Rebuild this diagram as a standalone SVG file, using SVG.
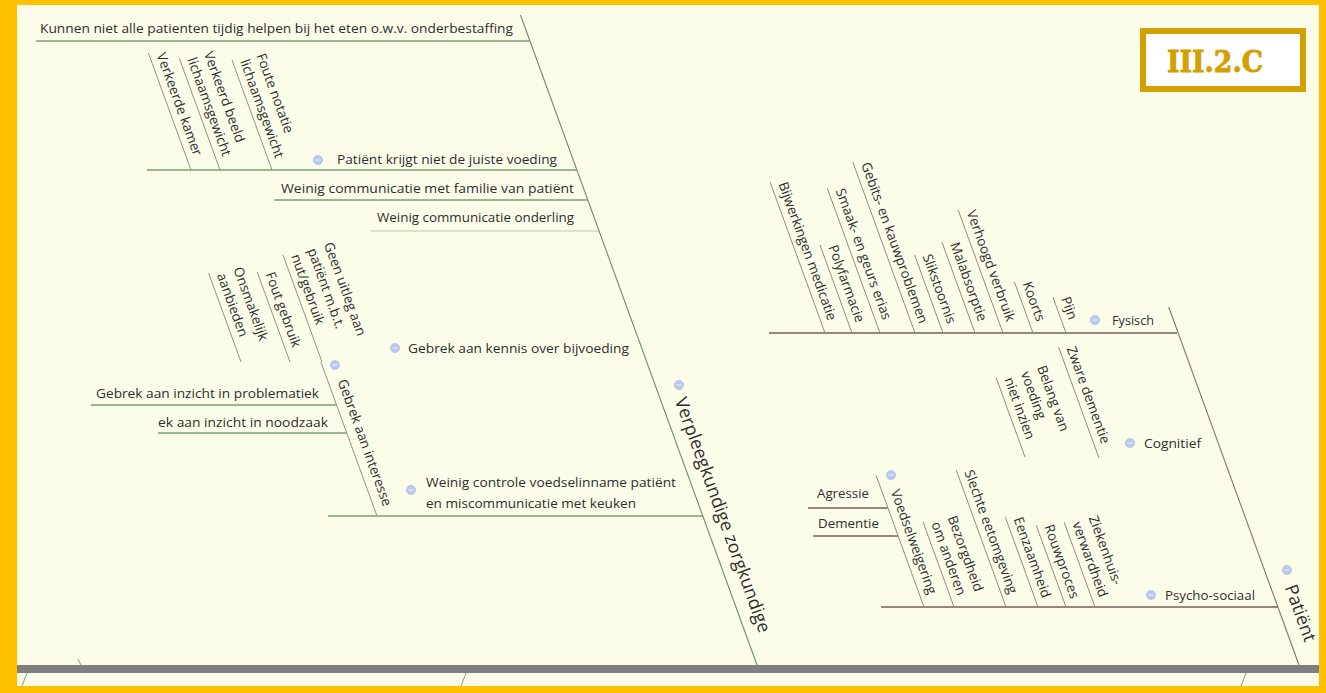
<svg xmlns="http://www.w3.org/2000/svg" width="1326" height="693" viewBox="0 0 1326 693">
  <defs>
    <style>
      .t { font-family: "Open Sans", "Noto Sans", "Liberation Sans", sans-serif; font-size: 13.5px; fill: #2e2e2e; }
      .big { font-size: 18px; }
      .tag { font-family: "DejaVu Serif", "Liberation Serif", serif; font-weight: bold; font-size: 30px; fill: #d2a000; stroke: #d2a000; stroke-width: 0.9; }
      .ul { stroke: #7c9e70; stroke-width: 1.3; fill: none; }
      .ud { stroke: #8a9784; stroke-width: 1; fill: none; }
      .bl { stroke: #6f8a6c; stroke-width: 1.1; fill: none; }
      .ur { stroke: #7a5d53; stroke-width: 1.3; fill: none; }
      .rd { stroke: #978880; stroke-width: 1; fill: none; }
      .br { stroke: #85746c; stroke-width: 1.1; fill: none; }
      .stub { stroke: #8a9a84; stroke-width: 1; fill: none; }
    </style>
    <g id="ic">
      <circle r="4.6" fill="#b9c8ef" stroke="#a6b7e4" stroke-width="0.6"/>
      <line x1="-2.4" y1="0" x2="2.4" y2="0" stroke="#eef2fc" stroke-width="1.1"/>
    </g>
  </defs>

  <!-- frame -->
  <rect x="0" y="0" width="1326" height="693" fill="#ffc000"/>
  <rect x="17" y="5" width="1302" height="681" fill="#fcfde9"/>

  <!-- spine -->
  <rect id="spine" x="17" y="665" width="1302" height="8" fill="#7f7f7f"/>

  <!-- label tag -->
  <g id="tag">
    <rect x="1143" y="31" width="160" height="58" fill="#ffffff" stroke="#d2a000" stroke-width="6"/>
    <text class="tag" x="1167" y="72" textLength="96" lengthAdjust="spacingAndGlyphs">III.2.C</text>
  </g>

  <!-- connectors -->
  <g id="connectors">
    <!-- main bones -->
    <line class="bl" x1="520.5" y1="15" x2="757" y2="665"/>
    <line class="br" x1="1168.7" y1="307" x2="1299" y2="665"/>
    <!-- bone stubs continuing past the spine -->
    <line class="stub" x1="78" y1="659" x2="81" y2="665"/>
    <line class="stub" x1="27" y1="673" x2="22" y2="686"/>
    <line class="stub" x1="466" y1="673" x2="461" y2="686"/>
    <line class="rd" x1="1246" y1="673" x2="1241" y2="686"/>

    <!-- left horizontal branches -->
    <line class="ul" x1="36" y1="41" x2="530" y2="41"/>
    <line class="ul" x1="147" y1="170" x2="577" y2="170"/>
    <line class="ul" x1="274" y1="200" x2="588" y2="200"/>
    <line class="ul" x1="370" y1="231" x2="599" y2="231" stroke-opacity="0.35"/>
    <line class="ul" x1="91" y1="405" x2="337" y2="405"/>
    <line class="ul" x1="158" y1="433" x2="347" y2="433"/>
    <line class="ul" x1="328" y1="516" x2="703" y2="516"/>

    <!-- left slanted branches -->
    <line class="ud" x1="148.4" y1="53" x2="191" y2="170"/>
    <line class="ud" x1="179.3" y1="58.2" x2="220" y2="170"/>
    <line class="ud" x1="232" y1="60.1" x2="272" y2="170"/>
    <line class="ud" x1="208.6" y1="273" x2="241" y2="362"/>
    <line class="ud" x1="257.2" y1="272" x2="290" y2="362"/>
    <line class="ud" x1="283" y1="254.9" x2="322" y2="362"/>
    <line class="ud" x1="320.9" y1="362" x2="377" y2="516"/>

    <!-- right horizontal branches -->
    <line class="ur" x1="769" y1="333" x2="1177" y2="333"/>
    <line class="ur" x1="881" y1="607" x2="1278" y2="607" stroke="#8a766d"/>
    <line class="ur" x1="808" y1="508" x2="888" y2="508"/>
    <line class="ur" x1="813" y1="536" x2="898" y2="536"/>

    <!-- right slanted branches -->
    <line class="rd" x1="770.1" y1="182.1" x2="825" y2="333"/>
    <line class="rd" x1="820" y1="245" x2="852" y2="333"/>
    <line class="rd" x1="827.3" y1="188.3" x2="880" y2="333"/>
    <line class="rd" x1="852.8" y1="162" x2="915" y2="333"/>
    <line class="rd" x1="914.6" y1="255" x2="943" y2="333"/>
    <line class="rd" x1="941.9" y1="242" x2="975" y2="333"/>
    <line class="rd" x1="958.2" y1="210" x2="1003" y2="333"/>
    <line class="rd" x1="1014.4" y1="282" x2="1033" y2="333"/>
    <line class="rd" x1="1052.9" y1="297" x2="1066" y2="333"/>
    <line class="rd" x1="1058.6" y1="347.1" x2="1099" y2="458"/>
    <line class="rd" x1="996.3" y1="378.1" x2="1025" y2="457"/>
    <line class="rd" x1="876.1" y1="475.4" x2="924" y2="607"/>
    <line class="rd" x1="923.1" y1="522.1" x2="954" y2="607"/>
    <line class="rd" x1="956.2" y1="470.1" x2="1006" y2="607"/>
    <line class="rd" x1="1005.3" y1="517.1" x2="1038" y2="607"/>
    <line class="rd" x1="1036.2" y1="525.2" x2="1066" y2="607"/>
    <line class="rd" x1="1064.1" y1="522.1" x2="1095" y2="607"/>
  </g>

  <!-- left bone: nursing staff -->
  <g id="n-verpleegkundige">
    <use href="#ic" transform="translate(679,385)"/>
    <text class="t big" transform="translate(757,665) rotate(70)" x="-277" y="-13">Verpleegkundige zorgkundige</text>
  </g>
  <g id="n-kunnen">
    <text class="t" x="40" y="33" textLength="473" lengthAdjust="spacingAndGlyphs">Kunnen niet alle patienten tijdig helpen bij het eten o.w.v. onderbestaffing</text>
  </g>
  <g id="n-juiste-voeding">
    <use href="#ic" transform="translate(318,160)"/>
    <text class="t" x="337" y="164" textLength="220" lengthAdjust="spacingAndGlyphs">Patiënt krijgt niet de juiste voeding</text>
  </g>
  <g id="n-verkeerde-kamer" transform="translate(191,170) rotate(70)">
    <text class="t" x="-120" y="-7">Verkeerde kamer</text>
  </g>
  <g id="n-verkeerd-beeld" transform="translate(220,170) rotate(70)">
    <text class="t" x="-115" y="-24.5">Verkeerd beeld</text>
    <text class="t" x="-115" y="-7">lichaamsgewicht</text>
  </g>
  <g id="n-foute-notatie" transform="translate(272,170) rotate(70)">
    <text class="t" x="-113" y="-24.5">Foute notatie</text>
    <text class="t" x="-113" y="-7">lichaamsgewicht</text>
  </g>
  <g id="n-familie">
    <text class="t" x="281" y="193" textLength="293" lengthAdjust="spacingAndGlyphs">Weinig communicatie met familie van patiënt</text>
  </g>
  <g id="n-onderling">
    <text class="t" x="377" y="222" textLength="197" lengthAdjust="spacingAndGlyphs">Weinig communicatie onderling</text>
  </g>
  <g id="n-kennis">
    <use href="#ic" transform="translate(395,348)"/>
    <text class="t" x="408" y="353" textLength="221" lengthAdjust="spacingAndGlyphs">Gebrek aan kennis over bijvoeding</text>
  </g>
  <g id="n-onsmakelijk" transform="translate(241,362) rotate(70)">
    <text class="t" x="-90" y="-24.5">Onsmakelijk</text>
    <text class="t" x="-90" y="-7">aanbieden</text>
  </g>
  <g id="n-fout-gebruik" transform="translate(290,362) rotate(70)">
    <text class="t" x="-91" y="-7">Fout gebruik</text>
  </g>
  <g id="n-geen-uitleg" transform="translate(322,362) rotate(70)">
    <text class="t" x="-110" y="-42">Geen uitleg aan</text>
    <text class="t" x="-110" y="-24.5">patiënt m.b.t.</text>
    <text class="t" x="-110" y="-7">nut/gebruik</text>
  </g>
  <g id="n-interesse">
    <use href="#ic" transform="translate(335,365)"/>
    <text class="t" transform="translate(377,516) rotate(70)" x="-140" y="-9">Gebrek aan interesse</text>
  </g>
  <g id="n-problematiek">
    <text class="t" x="96" y="398" textLength="223" lengthAdjust="spacingAndGlyphs">Gebrek aan inzicht in problematiek</text>
  </g>
  <g id="n-noodzaak">
    <text class="t" x="158" y="427" textLength="170" lengthAdjust="spacingAndGlyphs">ek aan inzicht in noodzaak</text>
  </g>
  <g id="n-controle">
    <use href="#ic" transform="translate(411,490)"/>
    <text class="t" x="426" y="487" textLength="250" lengthAdjust="spacingAndGlyphs">Weinig controle voedselinname patiënt</text>
    <text class="t" x="426" y="508" textLength="210" lengthAdjust="spacingAndGlyphs">en miscommunicatie met keuken</text>
  </g>

  <!-- right bone: patient -->
  <g id="n-patient">
    <use href="#ic" transform="translate(1287,570)"/>
    <text class="t big" transform="translate(1299,665) rotate(70)" x="-78" y="-13">Patiënt</text>
  </g>
  <g id="n-fysisch">
    <use href="#ic" transform="translate(1095,320)"/>
    <text class="t" x="1112" y="325" textLength="42" lengthAdjust="spacingAndGlyphs">Fysisch</text>
  </g>
  <g id="n-bijwerkingen" transform="translate(825,333) rotate(70)">
    <text class="t" x="-156" y="-7">Bijwerkingen medicatie</text>
  </g>
  <g id="n-polyfarmacie" transform="translate(852,333) rotate(70)">
    <text class="t" x="-89" y="-7">Polyfarmacie</text>
  </g>
  <g id="n-smaak" transform="translate(880,333) rotate(70)">
    <text class="t" x="-149" y="-7">Smaak- en geurs erias</text>
  </g>
  <g id="n-gebits" transform="translate(915,333) rotate(70)">
    <text class="t" x="-177" y="-7">Gebits- en kauwproblemen</text>
  </g>
  <g id="n-slik" transform="translate(943,333) rotate(70)">
    <text class="t" x="-79" y="-7">Slikstoornis</text>
  </g>
  <g id="n-malabsorptie" transform="translate(975,333) rotate(70)">
    <text class="t" x="-92" y="-7">Malabsorptie</text>
  </g>
  <g id="n-verbruik" transform="translate(1003,333) rotate(70)">
    <text class="t" x="-126" y="-7">Verhoogd verbruik</text>
  </g>
  <g id="n-koorts" transform="translate(1033,333) rotate(70)">
    <text class="t" x="-50" y="-7">Koorts</text>
  </g>
  <g id="n-pijn" transform="translate(1066,333) rotate(70)">
    <text class="t" x="-34" y="-7">Pijn</text>
  </g>
  <g id="n-cognitief">
    <use href="#ic" transform="translate(1130,443)"/>
    <text class="t" x="1144" y="448" textLength="57" lengthAdjust="spacingAndGlyphs">Cognitief</text>
  </g>
  <g id="n-zware-dementie" transform="translate(1099,458) rotate(70)">
    <text class="t" x="-114" y="-7">Zware dementie</text>
  </g>
  <g id="n-belang" transform="translate(1025,457) rotate(70)">
    <text class="t" x="-80" y="-42">Belang van</text>
    <text class="t" x="-80" y="-24.5">voeding</text>
    <text class="t" x="-80" y="-7">niet inzien</text>
  </g>
  <g id="n-psycho">
    <use href="#ic" transform="translate(1151,595)"/>
    <text class="t" x="1165" y="600" textLength="90" lengthAdjust="spacingAndGlyphs">Psycho-sociaal</text>
  </g>
  <g id="n-voedselweigering">
    <use href="#ic" transform="translate(891,475)"/>
    <text class="t" transform="translate(924,607) rotate(70)" x="-120" y="-8">Voedselweigering</text>
  </g>
  <g id="n-agressie">
    <text class="t" x="817" y="498" textLength="52" lengthAdjust="spacingAndGlyphs">Agressie</text>
  </g>
  <g id="n-dementie">
    <text class="t" x="818" y="528" textLength="61" lengthAdjust="spacingAndGlyphs">Dementie</text>
  </g>
  <g id="n-bezorgdheid" transform="translate(954,607) rotate(70)">
    <text class="t" x="-86" y="-24.5">Bezorgdheid</text>
    <text class="t" x="-86" y="-7">om anderen</text>
  </g>
  <g id="n-eetomgeving" transform="translate(1006,607) rotate(70)">
    <text class="t" x="-141" y="-7">Slechte eetomgeving</text>
  </g>
  <g id="n-eenzaamheid" transform="translate(1038,607) rotate(70)">
    <text class="t" x="-91" y="-7">Eenzaamheid</text>
  </g>
  <g id="n-rouwproces" transform="translate(1066,607) rotate(70)">
    <text class="t" x="-83" y="-7">Rouwproces</text>
  </g>
  <g id="n-ziekenhuis" transform="translate(1095,607) rotate(70)">
    <text class="t" x="-86" y="-24.5">Ziekenhuis-</text>
    <text class="t" x="-86" y="-7">verwardheid</text>
  </g>
</svg>
